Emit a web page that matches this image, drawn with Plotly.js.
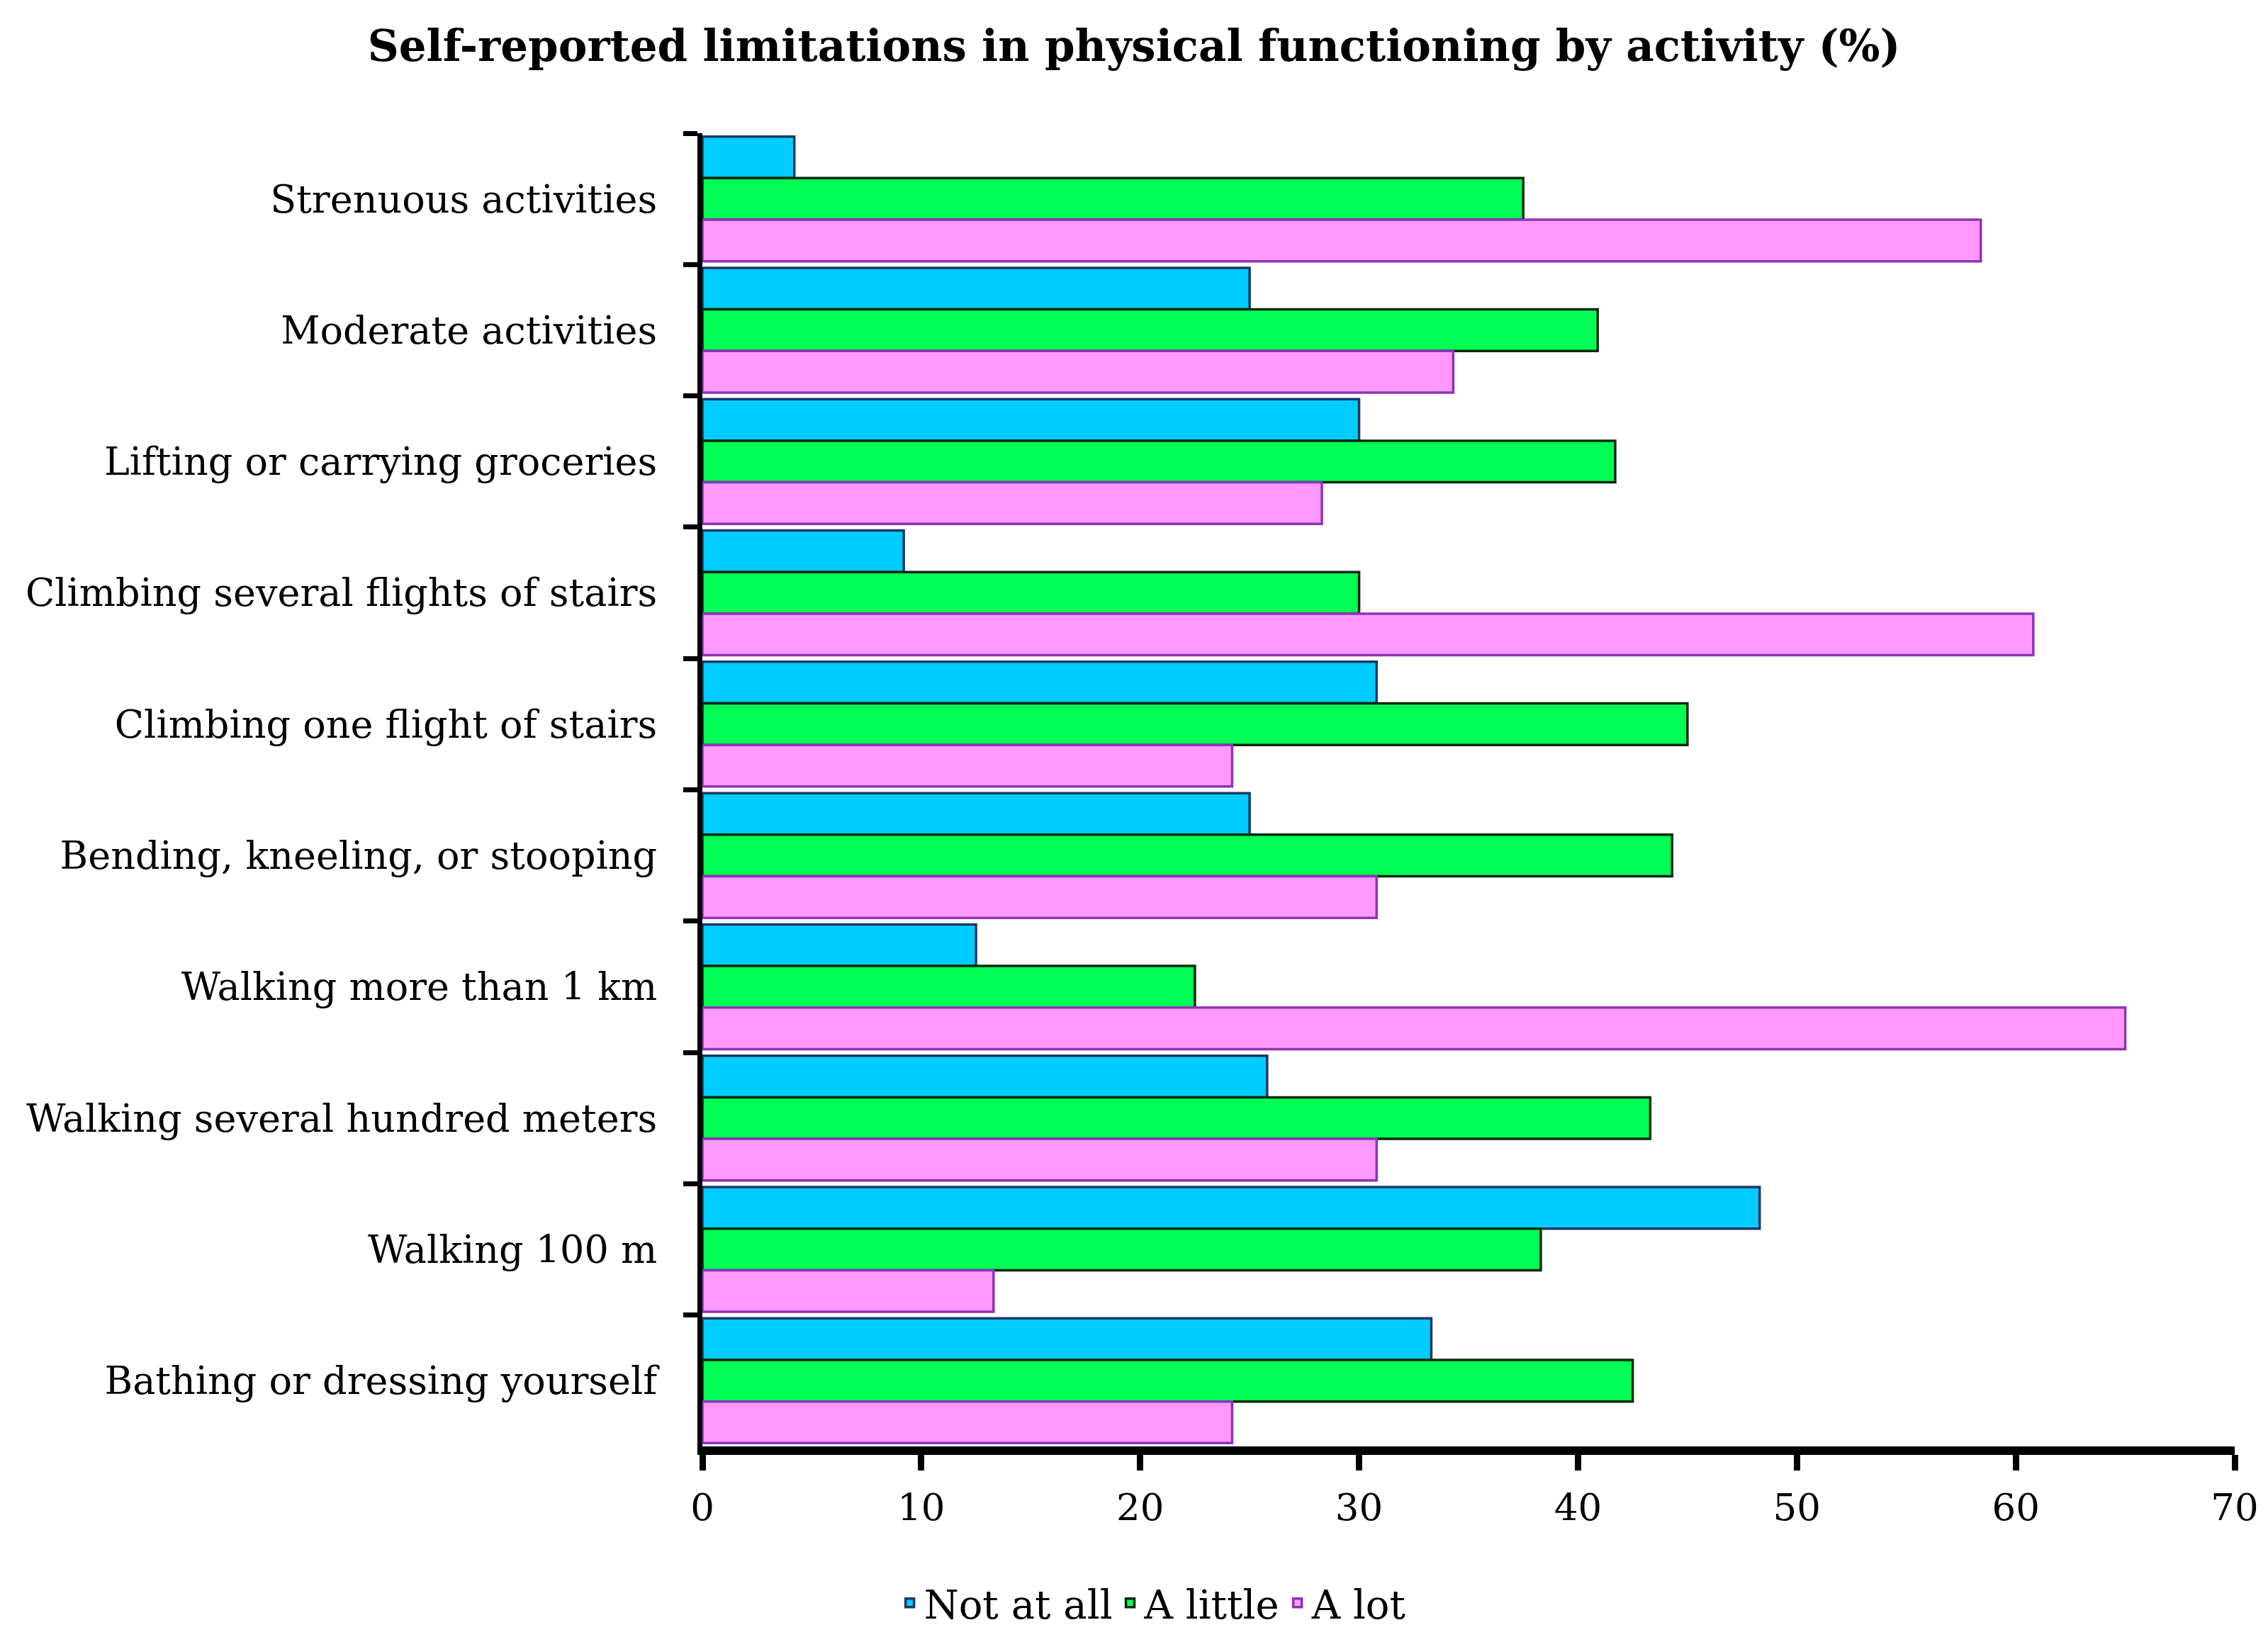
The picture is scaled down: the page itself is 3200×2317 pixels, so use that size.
<!DOCTYPE html>
<html>
<head>
<meta charset="utf-8">
<script src="https://cdn.plot.ly/plotly-3.0.1.min.js"></script>
<style>
  html, body { margin: 0; padding: 0; background: #fff; }
  #chart { width: 3200px; height: 2317px; }
</style>
</head>
<body>
<div id="chart"></div>
<script>
// activities, listed top to bottom as in the figure
var activities = [
  "Strenuous activities",
  "Moderate activities",
  "Lifting or carrying groceries",
  "Climbing several flights of stairs",
  "Climbing one flight of stairs",
  "Bending, kneeling, or stooping",
  "Walking more than 1 km",
  "Walking several hundred meters",
  "Walking 100 m",
  "Bathing or dressing yourself"
];

var notAtAll = [4.2, 25.0, 30.0, 9.2, 30.8, 25.0, 12.5, 25.8, 48.3, 33.3];
var aLittle  = [37.5, 40.9, 41.7, 30.0, 45.0, 44.3, 22.5, 43.3, 38.3, 42.5];
var aLot     = [58.4, 34.3, 28.3, 60.8, 24.2, 30.8, 65.0, 30.8, 13.3, 24.2];

var xTicks = [0, 10, 20, 30, 40, 50, 60, 70];

var serif = "DejaVu Serif, Liberation Serif, serif";

function series(name, values, fill, edge) {
  return {
    type: "bar",
    orientation: "h",
    name: name,
    y: activities,
    x: values,
    marker: { color: fill, line: { color: edge, width: 3.5 } },
    hoverinfo: "x+name"
  };
}

var traces = [
  series("Not at all", notAtAll, "#00CCFF", "#1F3864"),
  series("A little", aLittle, "#00FF55", "#0A2A0A"),
  series("A lot", aLot, "#FF99FF", "#8E33B8")
];

var layout = {
  width: 3200,
  height: 2317,
  paper_bgcolor: "#ffffff",
  plot_bgcolor: "#ffffff",
  font: { family: serif, color: "#000", size: 52 },
  title: {
    text: "<b>Self-reported limitations in physical functioning by activity (%)</b>",
    font: { family: serif, size: 61, color: "#000" },
    x: 0.5,
    xanchor: "center",
    y: 0.972,
    yanchor: "middle"
  },
  margin: { l: 991, r: 47, t: 188, b: 276 },
  barmode: "group",
  bargap: 0.05,
  bargroupgap: 0,
  xaxis: {
    range: [0, 70],
    tickvals: xTicks,
    ticktext: xTicks.map(String),
    showgrid: false,
    zeroline: false,
    showline: true,
    linecolor: "#000",
    linewidth: 12,
    ticks: "outside",
    ticklen: 22,
    tickwidth: 9,
    tickcolor: "#000",
    ticklabelstandoff: 6,
    tickfont: { family: serif, size: 53 },
    fixedrange: true
  },
  yaxis: {
    type: "category",
    autorange: "reversed",
    showgrid: false,
    zeroline: false,
    showline: true,
    linecolor: "#000",
    linewidth: 7,
    ticks: "outside",
    tickson: "boundaries",
    ticklen: 20,
    tickwidth: 7,
    tickcolor: "#000",
    ticklabelstandoff: 46,
    tickfont: { family: serif, size: 54 },
    fixedrange: true
  },
  showlegend: true,
  legend: {
    orientation: "h",
    x: 0.294,
    xanchor: "center",
    y: -0.096,
    yanchor: "top",
    font: { family: serif, size: 56 },
    itemwidth: 30,
    tracegroupgap: 0
  }
};

Plotly.newPlot("chart", traces, layout, { displayModeBar: false, staticPlot: true });
</script>
</body>
</html>
